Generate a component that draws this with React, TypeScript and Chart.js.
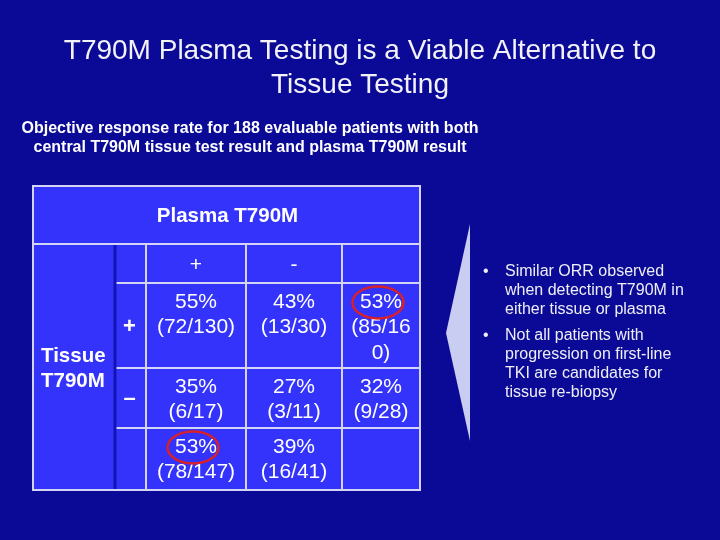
import React, { useEffect, useRef } from 'react';
import { Chart, registerables } from 'chart.js';

Chart.register(...registerables);

// table contents
const colLabels = ['+', '-', ''];
const rowLabels = ['+', '\u2013', ''];
const orrPct: (number | null)[][] = [
  [55, 43, 53],
  [35, 27, 32],
  [53, 39, null],
];
const responders: (number | null)[][] = [
  [72, 13, 85],
  [6, 3, 9],
  [78, 16, null],
];
const totals: (number | null)[][] = [
  [130, 30, 160],
  [17, 11, 28],
  [147, 41, null],
];
// [row, col] cells circled in red
const circled = [
  [0, 2],
  [2, 0],
];

const titleLines = ['T790M Plasma Testing is a Viable Alternative to', 'Tissue Testing'];
const subtitleLines = [
  'Objective response rate for 188 evaluable patients with both',
  'central T790M tissue test result and plasma T790M result',
];
const bullets = [
  ['Similar ORR observed', 'when detecting T790M in', 'either tissue or plasma'],
  ['Not all patients with', 'progression on first-line', 'TKI are candidates for', 'tissue re-biopsy'],
];

// table geometry (scale units = px inside the chart area)
const colEdges = [0, 82, 113, 213, 309, 387];
const rowEdges = [0, 58, 97, 182, 242, 304];

const BG = '#0a0a96';
const CELL = '#3333fb';
const LINE = '#d4d4f4';
const FONT = 'Arial, "Liberation Sans", sans-serif';

const mid = (e: number[], i: number) => (e[i] + e[i + 1]) / 2;

const cellPoints: any[] = [];
orrPct.forEach((row, r) =>
  row.forEach((v, c) => {
    if (v === null) return;
    cellPoints.push({ x: mid(colEdges, c + 2), y: rowEdges[r + 2], r, c });
  })
);
const colHeadPoints = colLabels.map((l, c) => ({ x: mid(colEdges, c + 2), y: mid(rowEdges, 1), label: l }));
const rowHeadPoints = rowLabels.map((l, r) => ({ x: mid(colEdges, 1), y: mid(rowEdges, r + 2), label: l }));

function wrap(ctx: CanvasRenderingContext2D, text: string, maxW: number): string[] {
  const out: string[] = [];
  let cur = '';
  for (const ch of text) {
    if (ctx.measureText(cur + ch).width > maxW && cur) {
      out.push(cur);
      cur = ch;
    } else cur += ch;
  }
  if (cur) out.push(cur);
  return out;
}

const slidePlugin = {
  id: 'slide',
  beforeDraw(chart: any) {
    const { ctx, width, height, scales } = chart;
    const x = scales.x;
    const y = scales.y;
    ctx.save();
    ctx.fillStyle = BG;
    ctx.fillRect(0, 0, width, height);

    const px = (v: number) => x.getPixelForValue(v);
    const py = (v: number) => y.getPixelForValue(v);
    const last = colEdges.length - 1;

    ctx.fillStyle = CELL;
    ctx.fillRect(px(0), py(0), px(colEdges[last]) - px(0), py(rowEdges[rowEdges.length - 1]) - py(0));

    ctx.strokeStyle = LINE;
    ctx.lineWidth = 2;
    const line = (x1: number, y1: number, x2: number, y2: number) => {
      ctx.beginPath();
      ctx.moveTo(x1, y1);
      ctx.lineTo(x2, y2);
      ctx.stroke();
    };
    // outer frame
    ctx.strokeRect(px(0), py(0), px(colEdges[last]) - px(0), py(rowEdges[rowEdges.length - 1]) - py(0));
    // header line
    line(px(0), py(rowEdges[1]), px(colEdges[last]), py(rowEdges[1]));
    // row separators (not through the tissue label column)
    for (let i = 2; i < rowEdges.length - 1; i++) line(px(colEdges[1]), py(rowEdges[i]), px(colEdges[last]), py(rowEdges[i]));
    // column separators
    for (let i = 2; i < last; i++) line(px(colEdges[i]), py(rowEdges[1]), px(colEdges[i]), py(rowEdges[rowEdges.length - 1]));
    // dark line between tissue label and +/- column
    ctx.strokeStyle = '#1414b4';
    ctx.lineWidth = 3;
    line(px(colEdges[1]), py(rowEdges[1]) + 1, px(colEdges[1]), py(rowEdges[rowEdges.length - 1]) - 1);

    // chevron
    ctx.fillStyle = '#c9cdf1';
    ctx.beginPath();
    ctx.moveTo(470, 224);
    ctx.lineTo(446, 333);
    ctx.lineTo(470, 441);
    ctx.closePath();
    ctx.fill();

    // titles
    ctx.fillStyle = '#f2f2f8';
    ctx.textAlign = 'center';
    ctx.textBaseline = 'middle';
    ctx.font = `28px ${FONT}`;
    titleLines.forEach((t, i) => ctx.fillText(t, 360, 51 + i * 34));
    ctx.fillStyle = '#ffffff';
    ctx.font = `bold 16px ${FONT}`;
    subtitleLines.forEach((t, i) => ctx.fillText(t, 250, 129 + i * 19));

    // bullets
    ctx.fillStyle = '#eeeef6';
    ctx.textAlign = 'left';
    ctx.font = `16px ${FONT}`;
    let by = 272;
    bullets.forEach((b) => {
      ctx.fillText('\u2022', 483, by);
      b.forEach((t, i) => ctx.fillText(t, 505, by + i * 19));
      by += b.length * 19 + 7;
    });

    // table headings
    ctx.fillStyle = '#ffffff';
    ctx.textAlign = 'center';
    ctx.font = `bold 20.5px ${FONT}`;
    ctx.fillText('Plasma T790M', px(colEdges[last] / 2) + 1, py(mid(rowEdges, 0)) + 1);
    ctx.textAlign = 'left';
    ctx.font = `bold 20.5px ${FONT}`;
    const ty = py((rowEdges[1] + rowEdges[rowEdges.length - 1]) / 2);
    ctx.fillText('Tissue', px(0) + 8, ty - 11);
    ctx.fillText('T790M', px(0) + 8, ty + 14);
    ctx.restore();
  },
  afterDatasetsDraw(chart: any) {
    const { ctx } = chart;
    ctx.save();
    ctx.fillStyle = '#ffffff';
    ctx.textAlign = 'center';
    ctx.textBaseline = 'middle';

    const heads = chart.getDatasetMeta(1).data;
    ctx.font = `21px ${FONT}`;
    heads.forEach((el: any, i: number) => ctx.fillText(colHeadPoints[i].label, el.x, el.y + 2));
    const rows = chart.getDatasetMeta(2).data;
    ctx.font = `bold 22px ${FONT}`;
    rows.forEach((el: any, i: number) => ctx.fillText(rowHeadPoints[i].label, el.x - 1, el.y + 1));

    const cells = chart.getDatasetMeta(0).data;
    ctx.font = `21px ${FONT}`;
    cells.forEach((el: any, i: number) => {
      const p = cellPoints[i];
      const cw = chart.scales.x.getPixelForValue(colEdges[p.c + 3]) - chart.scales.x.getPixelForValue(colEdges[p.c + 2]);
      const lines = [`${orrPct[p.r][p.c]}%`, ...wrap(ctx, `(${responders[p.r][p.c]}/${totals[p.r][p.c]})`, cw - 12)];
      lines.forEach((t, k) => ctx.fillText(t, el.x, el.y + 19 + k * 25.5));
      if (circled.some(([r, c]) => r === p.r && c === p.c)) {
        ctx.strokeStyle = '#d8202a';
        ctx.lineWidth = 2.5;
        ctx.beginPath();
        ctx.ellipse(el.x - 3, el.y + 19.5, 25.5, 16, 0, 0, Math.PI * 2);
        ctx.stroke();
      }
    });
    ctx.restore();
  },
};

const App: React.FC = () => {
  const chartRef = useRef<HTMLCanvasElement | null>(null);
  const chartInstance = useRef<Chart | null>(null);

  useEffect(() => {
    const ctx = chartRef.current?.getContext('2d');
    if (!ctx) return;
    if (chartInstance.current) chartInstance.current.destroy();
    //@ts-ignore
    chartInstance.current = new Chart(ctx, {
      type: 'scatter',
      data: {
        datasets: [
          { data: cellPoints, pointRadius: 0 },
          { data: colHeadPoints, pointRadius: 0 },
          { data: rowHeadPoints, pointRadius: 0 },
        ],
      },
      options: {
        animation: false,
        responsive: false,
        events: [],
        layout: { padding: { left: 33, top: 186, right: 300, bottom: 50 } },
        scales: {
          x: { type: 'linear', display: false, min: colEdges[0], max: colEdges[colEdges.length - 1] },
          y: { type: 'linear', display: false, reverse: true, min: rowEdges[0], max: rowEdges[rowEdges.length - 1] },
        },
        plugins: { legend: { display: false }, tooltip: { enabled: false } },
      },
      plugins: [slidePlugin],
    });
    return () => {
      if (chartInstance.current) {
        chartInstance.current.destroy();
        chartInstance.current = null;
      }
    };
  }, []);

  return (
    <div style={{ position: 'fixed', left: 0, top: 0, width: 720, height: 540 }}>
      <canvas ref={chartRef} width={720} height={540} style={{ width: 720, height: 540 }} />
    </div>
  );
};

export default App;
